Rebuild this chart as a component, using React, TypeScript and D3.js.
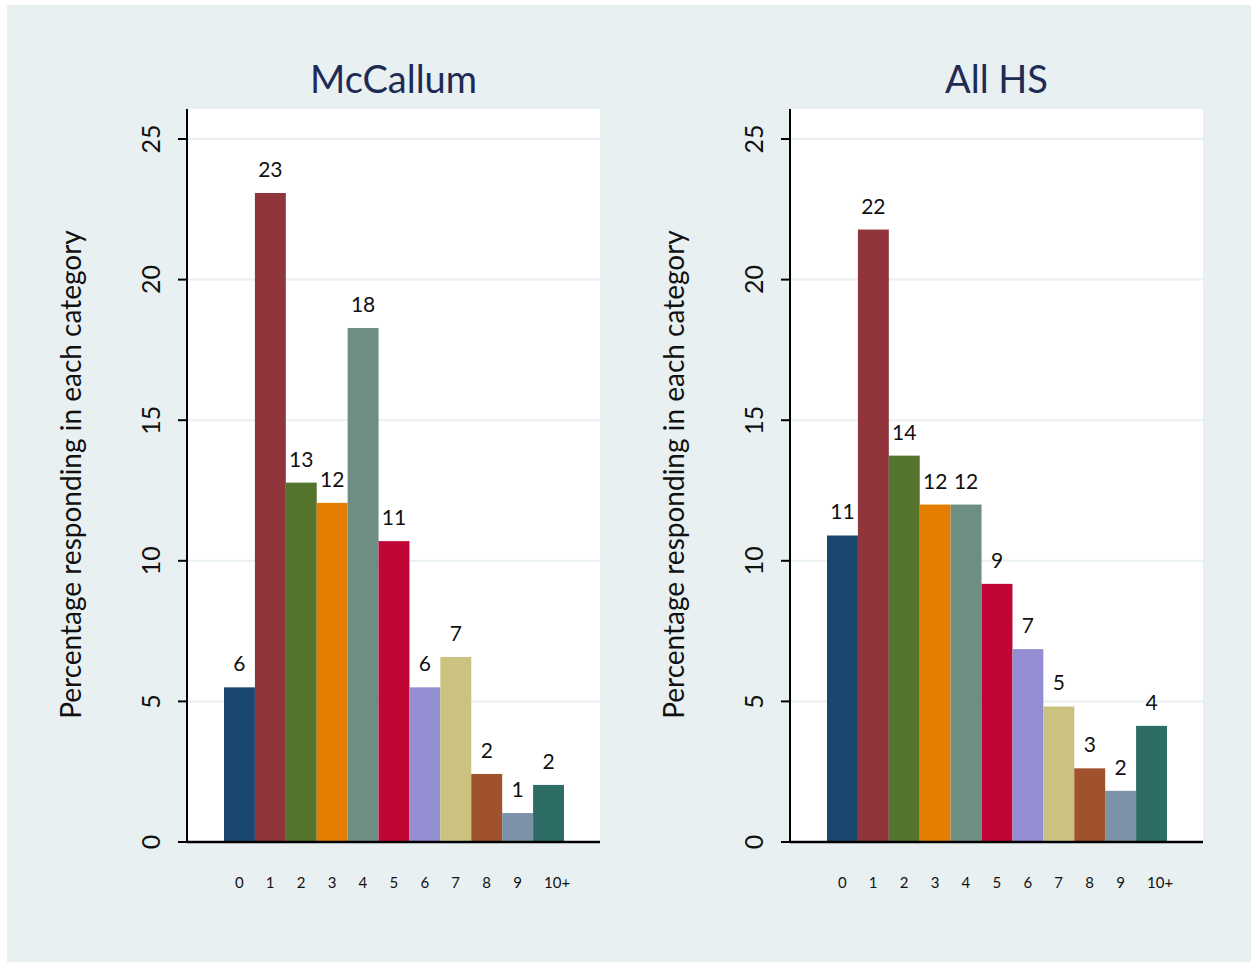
import React from "react";
import * as d3 from "d3";

const categories = ["0", "1", "2", "3", "4", "5", "6", "7", "8", "9", "10+"];
const mccallumValues = [5.5, 23.08, 12.78, 12.06, 18.28, 10.7, 5.5, 6.58, 2.42, 1.03, 2.03];
const allHsValues = [10.9, 21.78, 13.74, 12.0, 12.0, 9.18, 6.86, 4.82, 2.62, 1.82, 4.13];
const panelTitles = ["McCallum", "All HS"];
const yTicks = [0, 5, 10, 15, 20, 25];
const barColors = [
  "#1a476f", "#90353b", "#55752f", "#e37e00", "#6e8e84", "#c10534",
  "#938dd2", "#cac27e", "#a0522d", "#7b92a8", "#2d6d66",
];
const yAxisTitle = "Percentage responding in each category";

const W = 1251;
const H = 962;
const FONT = "Lato, 'Open Sans', sans-serif";

const plotTop = 109;
const plotBottom = 842;
const plotW = 413;
const panelLefts = [187, 790];

function Panel({ left, title, values }: { left: number; title: string; values: number[] }) {
  const y = d3.scaleLinear().domain([0, 25]).range([plotBottom, 139]);
  const x = d3.scaleBand<string>().domain(categories).range([left + 37, left + 377]).padding(0);
  const cx = left + plotW / 2;
  return (
    <g>
      <rect x={left} y={plotTop} width={plotW} height={plotBottom - plotTop} fill="#ffffff" />
      {yTicks.filter((t) => t > 0).map((t) => (
        <line key={"g" + t} x1={left} x2={left + plotW} y1={y(t)} y2={y(t)} stroke="#e8f0f2" strokeWidth={2} />
      ))}
      {values.map((v, i) => (
        <rect
          key={"b" + i}
          x={x(categories[i])}
          y={y(v)}
          width={x.bandwidth()}
          height={plotBottom - y(v)}
          fill={barColors[i]}
        />
      ))}
      {values.map((v, i) => (
        <text
          key={"l" + i}
          x={(x(categories[i]) as number) + x.bandwidth() / 2}
          y={y(v) - 16}
          textAnchor="middle"
          fontFamily={FONT}
          fontSize={21}
          fill="#111"
        >
          {Math.round(v)}
        </text>
      ))}
      <line x1={left} x2={left} y1={plotTop} y2={plotBottom + 1} stroke="#000" strokeWidth={2} />
      <line x1={left} x2={left + plotW} y1={plotBottom} y2={plotBottom} stroke="#000" strokeWidth={2.5} />
      {yTicks.map((t) => (
        <g key={"t" + t}>
          <line x1={left - 9} x2={left} y1={y(t)} y2={y(t)} stroke="#000" strokeWidth={2} />
          <text
            transform={`translate(${left - 27},${y(t)}) rotate(-90)`}
            textAnchor="middle"
            fontFamily={FONT}
            fontSize={25}
            fill="#111"
          >
            {t}
          </text>
        </g>
      ))}
      {categories.map((c) => (
        <text
          key={"x" + c}
          x={(x(c) as number) + x.bandwidth() / 2 - 4.5}
          y={888}
          textAnchor="start"
          fontFamily={FONT}
          fontSize={15}
          fill="#111"
        >
          {c}
        </text>
      ))}
      <text
        transform={`translate(${left - 106},${(plotTop + plotBottom) / 2 - 1}) rotate(-90)`}
        textAnchor="middle"
        fontFamily={FONT}
        fontSize={28}
        fill="#111"
      >
        {yAxisTitle}
      </text>
      <text x={cx} y={93} textAnchor="middle" fontFamily={FONT} fontSize={38} fill="#1e2b55">
        {title}
      </text>
    </g>
  );
}

export default function App() {
  const data = [mccallumValues, allHsValues];
  return (
    <svg
      width={W}
      height={H}
      style={{ position: "absolute", left: 0, top: 0, display: "block" }}
    >
      <rect x={0} y={0} width={W} height={H} fill="#ffffff" />
      <rect x={7} y={5} width={W - 7} height={H - 5} fill="#e8f0f2" />
      {panelLefts.map((l, i) => (
        <Panel key={i} left={l} title={panelTitles[i]} values={data[i]} />
      ))}
    </svg>
  );
}
